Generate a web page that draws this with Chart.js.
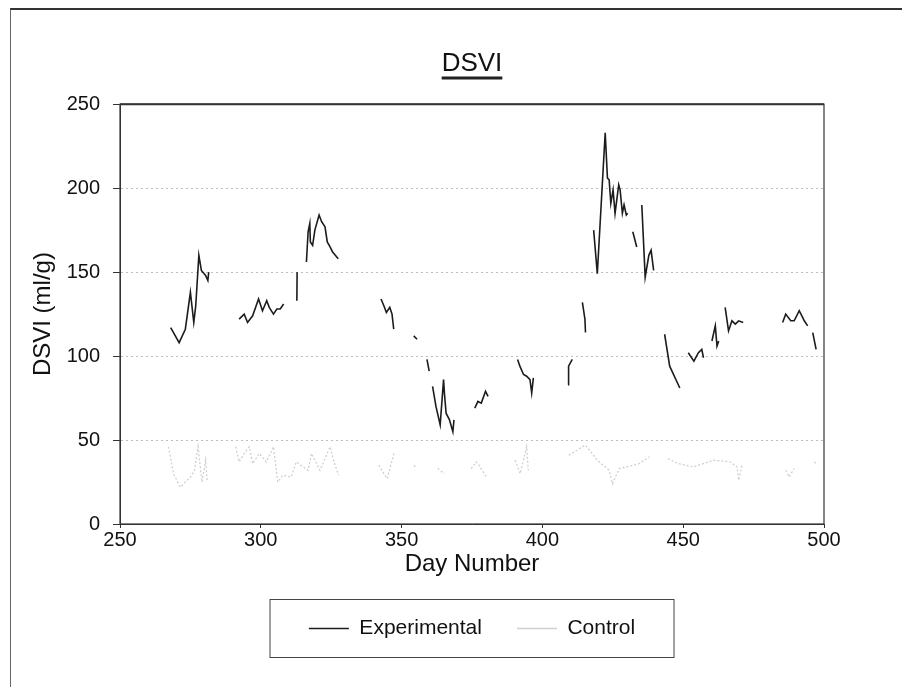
<!DOCTYPE html>
<html>
<head>
<meta charset="utf-8">
<script src="https://cdn.jsdelivr.net/npm/chart.js@4/dist/chart.umd.min.js"></script>
<style>
    body { margin: 0; background: #fff; }
    #frame {
        position: absolute; left: 10px; top: 8px; width: 892px; height: 679px;
        border-top: 2px solid #333; border-left: 1px solid #666;
    }
    #wrap { position: absolute; left: 0; top: 0; width: 902px; height: 687px; }
</style>
</head>
<body>
<div id="frame"></div>
<div id="wrap"><canvas id="dsvi_chart" width="902" height="687"></canvas></div>
<script>
// axis ticks
const xTicks = [250, 300, 350, 400, 450, 500];
const yTicks = [0, 50, 100, 150, 200, 250];

// Experimental series, null = gap in the record
const expDays = [
    268, 271, 273.2, 275, 276.2, 276.9, 278, 278.9, 280.4, 281.2, 281.5, 282,
    292.3, 294.1, 295.3, 297.1, 299.2, 300.6, 302.1, 303, 304.5, 305.7, 306.9, 308.1, 309,
    312.8, 312.9, 313,
    316.2, 316.8, 317.4, 317.6, 318.4, 319.2, 320.7, 321.6, 322.8, 323.6, 324.6, 325.5, 327.5, 328,
    342.7, 343.7, 344.6, 345.8, 346.6, 347.2, 348,
    354.3, 355.5, 356,
    359, 359.8, 360,
    361, 362.2, 363.7, 364.9, 365.2, 365.8, 367, 368.2, 368.6, 369,
    376, 377.1, 378.3, 379.8, 380.7, 381,
    391.2, 392, 393.3, 394.4, 395.6, 396.2, 396.8, 397,
    409.1, 409.2, 409.4, 410.6, 411,
    414.2, 415.1, 415.3, 415.5,
    418.2, 419.5, 422.3, 423.1, 423.7, 424.3, 425.1, 425.8, 427.1, 427.6, 428.4, 429, 429.8, 430.3, 430.6,
    432.1, 433.5, 433.8,
    435.3, 436.5, 437.8, 438.6, 439.5, 440,
    443.4, 445.2, 448.8, 449,
    451.8, 453.8, 455.4, 456.6, 457.2, 457.5,
    460.2, 461.4, 462, 462.6, 463,
    464.9, 466.1, 467.3, 468.5, 469.7, 471.3, 471.6,
    485.3, 486.4, 488.2, 489.4, 491.2, 492.4, 493, 494.2, 494.6,
    496, 497.2
];
const expValues = [
    117, 108, 116, 138, 120, 130, 160, 151, 148, 145, 150, null,
    122, 125, 120, 124, 134, 127, 133, 129, 125, 128, 128, 131, null,
    133, 150, null,
    156, 174, 179, 168, 166, 175, 184, 180, 177, 168, 165, 162, 158, null,
    134, 130, 126, 129, 125, 116, null,
    112, 110, null,
    98, 91, null,
    82, 70, 59, 86, 78, 66, 62, 55, 62, null,
    69, 73, 72, 79, 76, null,
    98, 94, 89, 88, 86, 78, 87, null,
    83, 90, 94, 98, null,
    132, 122, 114, null,
    175, 149, 233, 206, 205, 191, 199, 185, 202, 199, 185, 190, 184, 185, null,
    174, 165, null,
    190, 147, 160, 163, 151, null,
    113, 94, 81, null,
    102, 97, 102, 104, 99, null,
    109, 118, 106, 109, null,
    129, 115, 121, 119, 121, 120, null,
    120, 125, 121, 121, 127, 123, 121, 118, null,
    114, 104
];

// Control series (faint in the original)
const ctlDays = [
    267.2, 269, 271.4, 275, 276.5, 277.7, 279.1, 280.4, 281, 282,
    291.1, 292.3, 294.1, 295.9, 297.1, 299.5, 301.9, 303.7, 304.5, 306, 307.8, 310.8,
    312.6, 316.8, 318, 321, 324.6, 325.8, 327.6, 328,
    341.9, 343.7, 344.9, 347.3, 348,
    354.5, 355, 356,
    362.8, 365.2, 366,
    374.7, 376.5, 377.1, 380.1, 381,
    390.3, 392.1, 394.4, 395, 396,
    409.4, 415.3, 419.5, 423.7, 424.9, 427.3, 434.4, 438, 439,
    444.6, 448.2, 453.6, 460.8, 466.7, 469.1, 469.7, 470.9, 471.5,
    479.9, 480.5,
    486.4, 487.6, 489.4, 490,
    496.6, 497.2
];
const ctlValues = [
    46, 30, 22, 28, 32, 46, 25, 38, 25, null,
    46, 37, 42, 46, 36, 42, 37, 43, 46, 25, 29, 28,
    37, 32, 42, 32, 46, 38, 29, null,
    35, 30, 27, 42, null,
    35, 33, null,
    33, 30, null,
    33, 37, 36, 28, null,
    38, 30, 46, 32, null,
    41, 47, 38, 32, 24, 33, 36, 40, null,
    39, 36, 34, 38, 37, 34, 26, 35, null,
    46, null,
    32, 28, 33, null,
    37, 36
];

const toPoints = (days, values) => days.map((d, i) => ({ x: d, y: values[i] }));

// frame around plot, underline under title, box around legend
const decorations = {
    id: "decorations",
    afterDraw: (chart) => {
        const ctx = chart.ctx;
        const area = chart.chartArea;
        ctx.save();
        ctx.strokeStyle = "#333";
        ctx.lineWidth = 1.2;
        ctx.strokeRect(area.left, area.top, area.right - area.left, area.bottom - area.top);
        ctx.lineWidth = 2;
        ctx.beginPath();
        ctx.moveTo(area.left, area.top);
        ctx.lineTo(area.right, area.top);
        ctx.stroke();

        // title underline
        const tb = chart.titleBlock;
        const titleFont = Chart.helpers.toFont(chart.options.plugins.title.font);
        ctx.font = titleFont.string;
        const w = ctx.measureText(chart.options.plugins.title.text).width;
        const cx = tb.left + tb.width / 2;
        const ty = tb.top + tb.options.padding.top + titleFont.lineHeight / 2 + titleFont.size * 0.55;
        ctx.lineWidth = 3;
        ctx.strokeStyle = "#222";
        ctx.beginPath();
        ctx.moveTo(cx - w / 2, ty);
        ctx.lineTo(cx + w / 2, ty);
        ctx.stroke();

        // legend box
        const boxes = chart.legend.legendHitBoxes;
        if (boxes && boxes.length) {
            const lx = (area.left + area.right) / 2;
            const ly = boxes[0].top + boxes[0].height / 2;
            ctx.lineWidth = 1;
            ctx.strokeStyle = "#444";
            ctx.strokeRect(lx - 202, ly - 29, 404, 58);
        }
        ctx.restore();
    }
};

new Chart("dsvi_chart", {
    type: "line",
    data: {
        datasets: [{
            label: "Experimental",
            data: toPoints(expDays, expValues),
            borderColor: "#1c1c1c",
            backgroundColor: "#1c1c1c",
            borderWidth: 1.6,
            pointRadius: 0,
            tension: 0,
            spanGaps: false
        }, {
            label: "Control",
            data: toPoints(ctlDays, ctlValues),
            borderColor: "#cfcfcf",
            backgroundColor: "#cfcfcf",
            borderWidth: 1.3,
            borderDash: [2, 2],
            pointRadius: 0,
            tension: 0,
            spanGaps: false
        }]
    },
    options: {
        responsive: false,
        animation: false,
        layout: { padding: { top: 48, left: 25, right: 78, bottom: 38 } },
        scales: {
            x: {
                type: "linear",
                min: 250, max: 500,
                afterBuildTicks: (scale) => { scale.ticks = xTicks.map(v => ({ value: v })); },
                afterFit: (scale) => { scale.height = 59; },
                ticks: { color: "#111", font: { family: "Liberation Sans", size: 20 }, padding: 0 },
                grid: { drawOnChartArea: false, tickLength: 4, tickColor: "#333" },
                border: { color: "#333" },
                title: {
                    display: true, text: "Day Number", color: "#111",
                    font: { family: "Liberation Sans", size: 24 }, padding: { top: 4 }
                }
            },
            y: {
                min: 0, max: 250,
                afterBuildTicks: (scale) => { scale.ticks = yTicks.map(v => ({ value: v })); },
                afterFit: (scale) => { scale.width = 95; },
                ticks: { color: "#111", font: { family: "Liberation Sans", size: 20 }, padding: 13 },
                grid: {
                    color: (c) => (c.tick && (c.tick.value === 0 || c.tick.value === 250)) ? "rgba(0,0,0,0)" : "#bdbdbd",
                    tickColor: "#333",
                    tickLength: 7
                },
                border: { color: "#333", dash: [2, 3] },
                title: {
                    display: true, text: "DSVI (ml/g)", color: "#111",
                    font: { family: "Liberation Sans", size: 24 }, padding: { bottom: 6 }
                }
            }
        },
        plugins: {
            title: {
                display: true, text: "DSVI", color: "#111", fullSize: false,
                font: { family: "Liberation Sans", size: 26, weight: "normal" },
                padding: { top: 0, bottom: 25 }
            },
            legend: {
                position: "bottom", fullSize: false,
                labels: {
                    color: "#111",
                    font: { family: "Liberation Sans", size: 21 },
                    usePointStyle: true, pointStyle: "line", pointStyleWidth: 40,
                    padding: 35
                }
            },
            tooltip: { enabled: false }
        }
    },
    plugins: [decorations]
});
</script>
</body>
</html>
